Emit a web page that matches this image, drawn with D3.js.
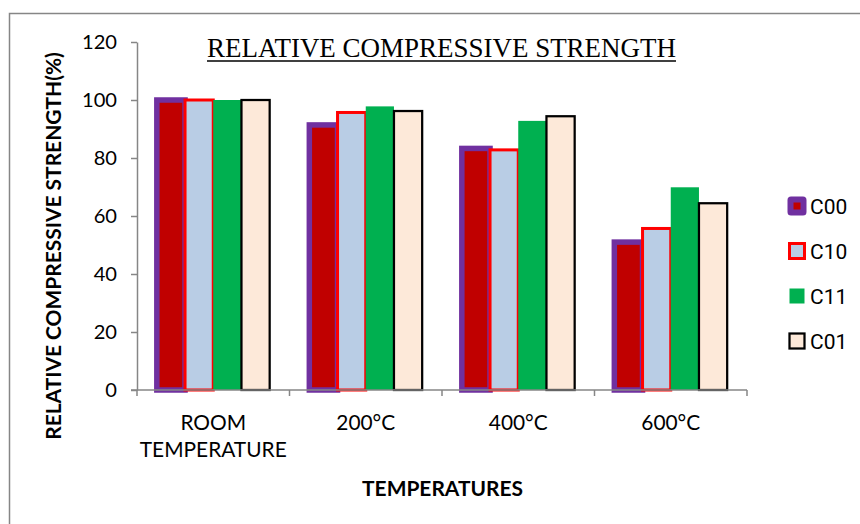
<!DOCTYPE html>
<html><head><meta charset="utf-8">
<script src="https://cdn.jsdelivr.net/npm/d3@7"></script>
<style>
html,body{margin:0;padding:0;background:#fff;}
svg{display:block;}
</style></head>
<body>
<svg id="chart" width="860" height="524"></svg>
<script>
const categories = ["ROOM\nTEMPERATURE", "200°C", "400°C", "600°C"];
const seriesNames = ["C00", "C10", "C11", "C01"];
const C00 = [100, 91.4, 83.3, 51.0];
const C10 = [100, 95.7, 82.8, 55.7];
const C11 = [100, 97.8, 92.8, 69.9];
const C01 = [100, 96.2, 94.4, 64.4];
const yTicks = [0, 20, 40, 60, 80, 100, 120];
const titleText = "RELATIVE COMPRESSIVE STRENGTH";
const yTitle = "RELATIVE COMPRESSIVE STRENGTH(%)";
const xTitle = "TEMPERATURES";

const seriesValues = [C00, C10, C11, C01];
const styles = [
  {fill: "#C00000", stroke: "#7030A0", sw: 5.5},
  {fill: "#B9CDE5", stroke: "#FF0000", sw: 3},
  {fill: "#00B050", stroke: "none", sw: 0},
  {fill: "#FDE9D9", stroke: "#000000", sw: 2.25}
];

const svg = d3.select("#chart");
const sansF = "Lato, 'Liberation Sans', sans-serif";

// measure helper: font size so that text has target width
function fitSize(text, family, weight, targetWidth) {
  const t = svg.append("text").attr("font-family", family).attr("font-weight", weight)
    .attr("font-size", 100).text(text);
  const w = t.node().getComputedTextLength();
  t.remove();
  return 100 * targetWidth / w;
}

// outer frame
svg.append("rect").attr("x", 9.5).attr("y", 13.5).attr("width", 900).attr("height", 600)
  .attr("fill", "none").attr("stroke", "#868686").attr("stroke-width", 1.5);

const pLeft = 137, pRight = 747, pTop = 42, pBottom = 390;
const x0 = d3.scaleBand().domain(d3.range(categories.length)).range([pLeft, pRight])
  .paddingInner(0.26).paddingOuter(0.13);
const x1 = d3.scaleBand().domain(d3.range(seriesNames.length)).range([0, x0.bandwidth()]);
const y = d3.scaleLinear().domain([0, 120]).range([pBottom, pTop]);

// bars
const groups = svg.append("g").selectAll("g").data(categories).join("g")
  .attr("transform", (d, i) => `translate(${x0(i)},0)`);
groups.each(function(cat, ci) {
  d3.select(this).selectAll("rect").data(seriesValues.map((s, si) => ({si, v: s[ci]})))
    .join("rect")
    .attr("x", d => x1(d.si))
    .attr("width", x1.bandwidth())
    .attr("y", d => y(d.v))
    .attr("height", d => y(0) - y(d.v))
    .attr("fill", d => styles[d.si].fill)
    .attr("stroke", d => styles[d.si].stroke)
    .attr("stroke-width", d => styles[d.si].sw);
});

// y axis
const tickSize = fitSize("120", sansF, "normal", 35);
const yAxis = svg.append("g").attr("transform", `translate(${pLeft},0)`)
  .call(d3.axisLeft(y).tickValues(yTicks).tickSize(6).tickSizeOuter(0).tickPadding(14));
yAxis.select(".domain").attr("stroke", "#868686").attr("stroke-width", 1.5);
yAxis.selectAll(".tick line").attr("stroke", "#868686").attr("stroke-width", 1.5);
yAxis.selectAll(".tick text").attr("font-family", sansF).attr("font-size", tickSize).attr("fill", "#000");

// x axis
const xAxisG = svg.append("g").attr("transform", `translate(0,${pBottom})`);
xAxisG.append("line").attr("x1", pLeft - 6).attr("x2", pRight).attr("y1", 0).attr("y2", 0)
  .attr("stroke", "#868686").attr("stroke-width", 1.5);
const boundaries = d3.range(categories.length + 1).map(i => pLeft + i * x0.step());
xAxisG.selectAll("line.tk").data(boundaries).join("line").attr("class", "tk")
  .attr("x1", d => d).attr("x2", d => d).attr("y1", 0).attr("y2", 6)
  .attr("stroke", "#868686").attr("stroke-width", 1.5);
const catSize = fitSize("TEMPERATURE", sansF, "normal", 147);
const catText = xAxisG.selectAll("text.cat").data(categories).join("text").attr("class", "cat")
  .attr("x", (d, i) => x0(i) + x0.bandwidth() / 2)
  .attr("y", 40)
  .attr("text-anchor", "middle")
  .attr("font-family", sansF).attr("font-size", catSize).attr("fill", "#000");
catText.each(function(d) {
  const lines = d.split("\n");
  const xx = d3.select(this).attr("x");
  d3.select(this).selectAll("tspan").data(lines).join("tspan")
    .attr("x", xx)
    .attr("dy", (l, i) => i === 0 ? 0 : 27)
    .text(l => l);
});

// title
const serifF = "'Liberation Serif', 'Times New Roman', serif";
const tSize = fitSize(titleText, serifF, "normal", 469);
const tt = svg.append("text").attr("x", 441.5).attr("y", 57).attr("text-anchor", "middle")
  .attr("font-family", serifF).attr("font-size", tSize)
  .attr("fill", "#000").text(titleText);
const tb = tt.node().getBBox();
svg.append("line").attr("x1", tb.x).attr("x2", tb.x + tb.width).attr("y1", 61).attr("y2", 61)
  .attr("stroke", "#000").attr("stroke-width", 1.5);

// axis titles
const ySize = fitSize(yTitle, sansF, "bold", 388);
svg.append("text").attr("transform", "translate(61,246) rotate(-90)").attr("text-anchor", "middle")
  .attr("font-family", sansF).attr("font-weight", "bold").attr("font-size", ySize)
  .attr("fill", "#000").text(yTitle);
const xSize = fitSize(xTitle, sansF, "bold", 161);
svg.append("text").attr("x", 442.5).attr("y", 496).attr("text-anchor", "middle")
  .attr("font-family", sansF).attr("font-weight", "bold").attr("font-size", xSize)
  .attr("fill", "#000").text(xTitle);

// legend
const legY = [206, 251, 296, 341];
const leg = svg.append("g").selectAll("g").data(seriesNames).join("g")
  .attr("transform", (d, i) => `translate(797,${legY[i]})`);
leg.each(function(name, i) {
  const g = d3.select(this);
  const s = styles[i];
  if (i === 0) {
    g.append("rect").attr("x", -8).attr("y", -8).attr("width", 16).attr("height", 16)
      .attr("rx", 2).attr("fill", s.stroke).attr("stroke", s.stroke).attr("stroke-width", 3);
    g.append("rect").attr("x", -3.5).attr("y", -3.5).attr("width", 7).attr("height", 7).attr("fill", s.fill);
  } else {
    g.append("rect").attr("x", -7.5).attr("y", -7.5).attr("width", 15).attr("height", 15)
      .attr("fill", s.fill).attr("stroke", s.stroke).attr("stroke-width", s.sw);
  }
  g.append("text").attr("x", 13).attr("y", 0).attr("dy", "0.36em")
    .attr("font-family", "Roboto, sans-serif").attr("font-size", 21).attr("fill", "#000").text(name);
});
</script>
</body></html>
